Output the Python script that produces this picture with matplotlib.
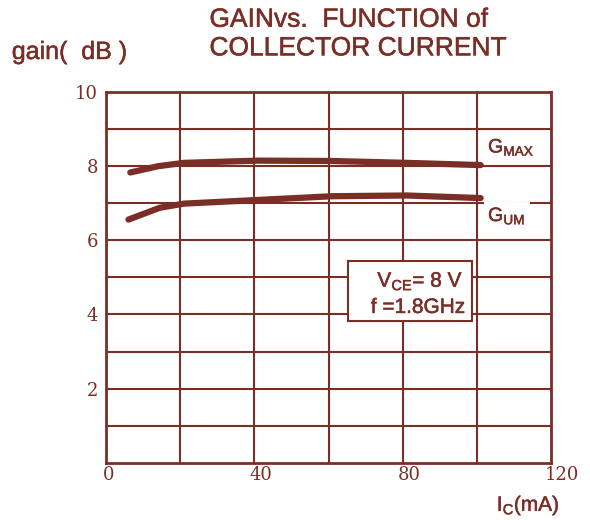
#!/usr/bin/env python3
"""Gain vs. collector current (GMAX and GUM) at VCE = 8 V, f = 1.8 GHz."""

import matplotlib
matplotlib.use('Agg')
import matplotlib.pyplot as plt
import matplotlib.patheffects as pe
from matplotlib.patches import Rectangle
from matplotlib.transforms import ScaledTranslation

# Data
ic_max = [6.5, 14, 21, 41, 61, 81, 101]
g_max = [7.83, 8.0, 8.09, 8.15, 8.14, 8.09, 8.03]
ic_um = [6, 14.5, 21, 41, 61, 81, 101]
g_um = [6.56, 6.88, 6.99, 7.09, 7.19, 7.21, 7.14]

x_ticks = [0, 40, 80, 120]
y_ticks = [2, 4, 6, 8, 10]

brown = '#7B2E26'
sans = 'Liberation Sans'
thick = [pe.withStroke(linewidth=0.35, foreground=brown)]

fig = plt.figure(figsize=(5.9, 5.2), dpi=100)
ax = fig.add_axes([0.18, 0.110, 0.754, 0.713])

# Grid every 20 mA and every 1 dB
for x in range(20, 120, 20):
    ax.axvline(x, color=brown, lw=1.5, zorder=1)
for y in range(1, 10):
    ax.axhline(y, color=brown, lw=1.5, zorder=1)

ax.plot(ic_max, g_max, color=brown, lw=4.5, solid_capstyle='round', zorder=3)
ax.plot(ic_um, g_um, color=brown, lw=4.5, solid_capstyle='round', zorder=3)

ax.set_xlim(0, 120)
ax.set_ylim(0, 10)
ax.set_xticks(x_ticks)
ax.set_yticks(y_ticks)
ax.tick_params(length=0, colors=brown, labelsize=13)
ax.tick_params(axis='x', pad=2)
ax.tick_params(axis='y', pad=6)
# tick labels in the original sit a little right of their grid lines
for lab, dx in zip(ax.get_xticklabels(), [1.5, 5, 5, 8]):
    lab.set_family('DejaVu Serif')
    lab.set_transform(lab.get_transform()
                      + ScaledTranslation(dx / 72, 0, fig.dpi_scale_trans))
for lab in ax.get_yticklabels():
    lab.set_family('DejaVu Serif')
for sp in ax.spines.values():
    sp.set_color(brown)
    sp.set_linewidth(2)

# Curve labels with white background to break the grid
ax.text(103, 8.5, r'G$_{\mathregular{MAX}}$', color=brown, fontsize=14,
        family=sans, va='center', ha='left', zorder=4, path_effects=thick,
        bbox=dict(facecolor='white', edgecolor='none', pad=3))
ax.text(103, 6.65, r'G$_{\mathregular{UM}}$', color=brown, fontsize=14,
        family=sans, va='center', ha='left', zorder=4, path_effects=thick,
        bbox=dict(facecolor='white', edgecolor='none', pad=3))

# Conditions box
ax.add_patch(Rectangle((65.2, 3.83), 33.5, 1.62, facecolor='white',
                       edgecolor=brown, lw=1.5, zorder=4))
ax.text(96.4, 4.89, 'V$_{\\mathregular{CE}}$= 8 V', color=brown, fontsize=15,
        family=sans, ha='right', va='center', zorder=5, path_effects=thick)
ax.text(96.8, 4.19, 'f =1.8GHz', color=brown, fontsize=15,
        family=sans, ha='right', va='center', zorder=5, path_effects=thick)

fig.text(0.355, 0.962, 'GAINvs.  FUNCTION of', color=brown, fontsize=19,
         family=sans, ha='left', va='center', path_effects=thick)
fig.text(0.355, 0.907, 'COLLECTOR CURRENT', color=brown, fontsize=19,
         family=sans, ha='left', va='center', path_effects=thick)
fig.text(0.02, 0.9, 'gain(  dB )', color=brown, fontsize=18,
         family=sans, ha='left', va='center', path_effects=thick)
fig.text(0.842, 0.028, 'I$_{\\mathregular{C}}$(mA)', color=brown, fontsize=15,
         family=sans, ha='left', va='center', path_effects=thick)

fig.savefig('out.png', dpi=100)
